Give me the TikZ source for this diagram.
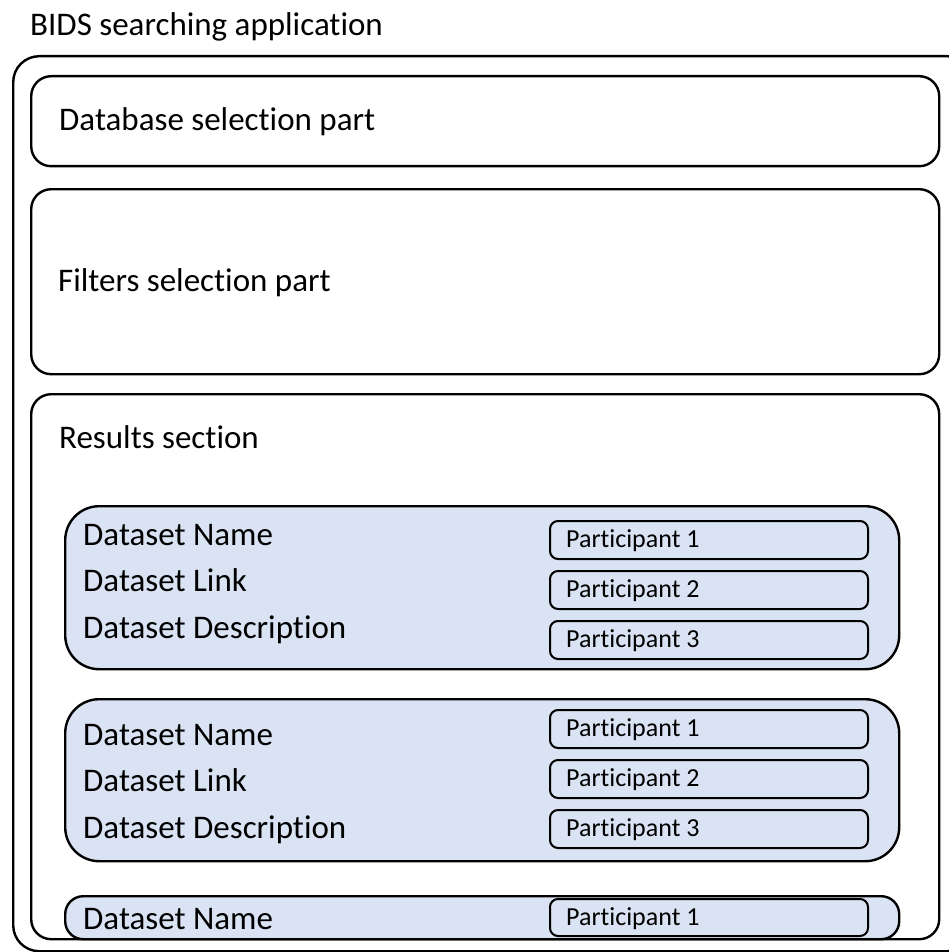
\documentclass[tikz,border=0pt]{standalone}
\usepackage{fontspec}
\setmainfont{Carlito}[Ligatures=CommonOff]
\definecolor{cardfill}{HTML}{DAE3F3}
\begin{document}
\begin{tikzpicture}[x=1pt,y=-1pt,
  panel/.style={draw=black, line width=2.4pt, rounded corners=20pt, rectangle, inner sep=0pt, anchor=north west},
  card/.style={draw=black, fill=cardfill, line width=2.4pt, rounded corners=34pt, rectangle, inner sep=0pt, anchor=north west},
  pbox/.style={draw=black, line width=2pt, rounded corners=8pt, rectangle, inner sep=0pt, anchor=north west,
    minimum width=318pt, minimum height=38pt},
  lbl/.style={anchor=base west, inner sep=0pt, font=\fontsize{33}{40}\selectfont},
  plbl/.style={anchor=base west, inner sep=0pt, font=\fontsize{26}{31}\selectfont}]
\clip (0,0) rectangle (949,952);

% title and outer frame
\node[lbl] (title) at (30,36) {BIDS searching application};
\node[panel, rounded corners=26pt, minimum width=960pt, minimum height=895pt] (app) at (12,55) {};

% database and filter panels
\node[panel, minimum width=908pt, minimum height=90pt] (db) at (30,75) {};
\node[lbl] (dbtxt) at (59,131) {Database selection part};
\node[panel, minimum width=908pt, minimum height=185pt] (filters) at (30,188) {};
\node[lbl] (filtxt) at (58,291) {Filters selection part};

% results panel
\node[panel, minimum width=908pt, minimum height=545pt] (results) at (30,393) {};
\node[lbl] (restxt) at (59,448) {Results section};

% first dataset card
\node[card, minimum width=834pt, minimum height=163pt] (ds1) at (64,505) {};
\node[lbl] (n1) at (83,545) {Dataset Name};
\node[lbl] (l1) at (83,591) {Dataset Link};
\node[lbl] (d1) at (83,638) {Dataset Description};
\node[pbox] (p11) at (549,520) {};
\node[pbox] (p12) at (549,570) {};
\node[pbox] (p13) at (549,620) {};
\node[plbl] (t11) at (566,547) {Participant 1};
\node[plbl] (t12) at (566,597) {Participant 2};
\node[plbl] (t13) at (566,647) {Participant 3};

% second dataset card
\node[card, minimum width=834pt, minimum height=162pt] (ds2) at (64,698) {};
\node[lbl] (n2) at (83,745) {Dataset Name};
\node[lbl] (l2) at (83,791) {Dataset Link};
\node[lbl] (d2) at (83,838) {Dataset Description};
\node[pbox] (p21) at (549,709) {};
\node[pbox] (p22) at (549,759) {};
\node[pbox] (p23) at (549,809) {};
\node[plbl] (t21) at (566,736) {Participant 1};
\node[plbl] (t22) at (566,786) {Participant 2};
\node[plbl] (t23) at (566,836) {Participant 3};

% third dataset card, cut off by the panel edge
\node[card, rounded corners=18pt, minimum width=834pt, minimum height=43pt] (ds3) at (64,895) {};
\node[pbox, minimum height=37pt] (p31) at (549,898) {};
\node[lbl] (n3) at (83,929) {Dataset Name};
\node[plbl] (t31) at (566,925) {Participant 1};
\end{tikzpicture}
\end{document}
